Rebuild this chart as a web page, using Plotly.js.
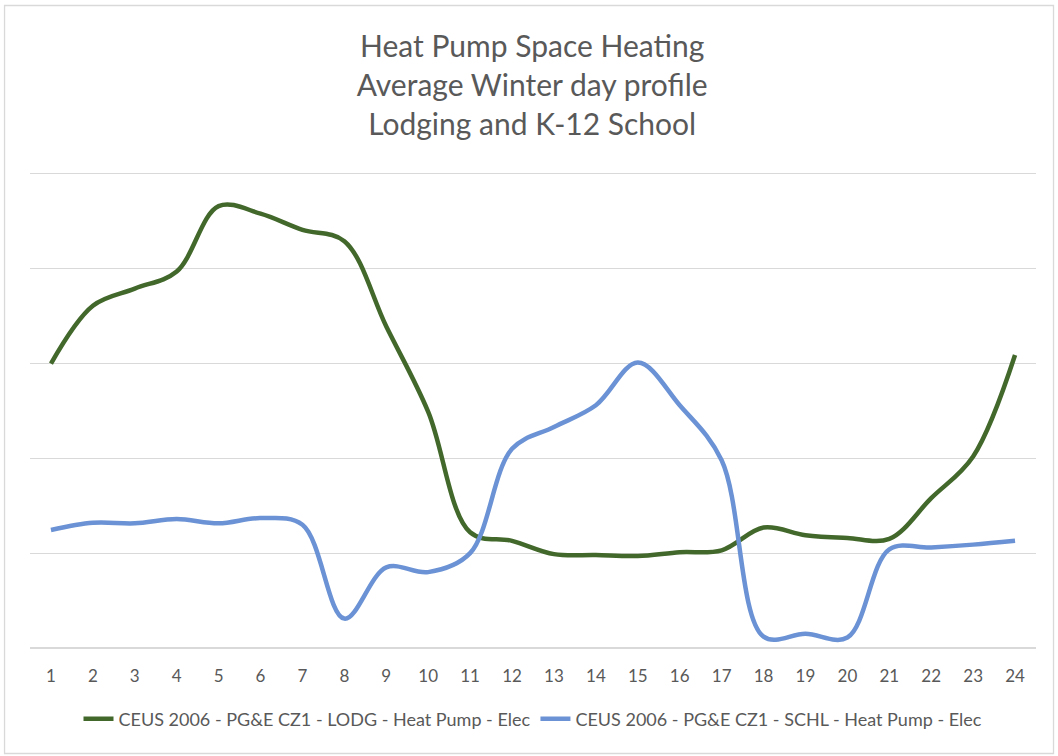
<!DOCTYPE html>
<html>
<head>
<meta charset="utf-8">
<script src="https://cdn.plot.ly/plotly-3.0.1.min.js"></script>
<style>
  html, body { margin: 0; padding: 0; background: #ffffff; }
  #chart { width: 1058px; height: 756px; }
</style>
</head>
<body>
<div id="chart"></div>
<script>
// Hours of the day (category labels)
const hours = ["1","2","3","4","5","6","7","8","9","10","11","12","13","14","15","16","17","18","19","20","21","22","23","24"];

// Series names
const lodgName = "CEUS 2006 - PG&E CZ1 - LODG - Heat Pump - Elec";
const schlName = "CEUS 2006 - PG&E CZ1 - SCHL - Heat Pump - Elec";

// Values (unlabelled vertical axis, gridline units)
const lodgValues = [3.00, 3.61, 3.79, 3.97, 4.66, 4.58, 4.41, 4.29, 3.39, 2.49, 1.22, 1.13,
                    0.99, 0.98, 0.97, 1.01, 1.03, 1.27, 1.19, 1.16, 1.15, 1.58, 2.02, 3.09];
const schlValues = [1.245, 1.32, 1.315, 1.36, 1.315, 1.37, 1.30, 0.31, 0.85, 0.80, 1.00, 2.10,
                    2.33, 2.56, 3.01, 2.56, 1.98, 0.12, 0.15, 0.11, 1.04, 1.06, 1.09, 1.13];

const FONT = "Lato, 'Open Sans', sans-serif";
const TXT = "#595959";

const traces = [
  {
    x: hours, y: lodgValues, name: lodgName, type: "scatter", mode: "lines",
    line: { color: "#43682B", width: 4.5, shape: "spline", smoothing: 1 }
  },
  {
    x: hours, y: schlValues, name: schlName, type: "scatter", mode: "lines",
    line: { color: "#6A92D4", width: 4.5, shape: "spline", smoothing: 1 }
  }
];

const layout = {
  width: 1058, height: 756,
  paper_bgcolor: "#ffffff", plot_bgcolor: "#ffffff",
  margin: { l: 30, r: 22, t: 171, b: 108 },
  font: { family: FONT, color: TXT, size: 16 },
  title: {
    text: "Heat Pump Space Heating<br>Average Winter day profile<br>Lodging and K-12 School",
    x: 0.503, xref: "container", xanchor: "center",
    y: 0.925, yref: "container", yanchor: "top",
    font: { family: FONT, size: 30, color: TXT }
  },
  xaxis: {
    type: "category",
    range: [-0.5, 23.5],
    showgrid: false, zeroline: false, showline: false,
    ticks: "", ticklabelstandoff: 16,
    tickfont: { family: FONT, size: 17, color: TXT }
  },
  yaxis: {
    range: [0, 5.03],
    dtick: 1,
    showticklabels: false,
    showgrid: true, gridcolor: "#d9d9d9", gridwidth: 1.3,
    zeroline: true, zerolinecolor: "#d9d9d9", zerolinewidth: 1.3,
    showline: false, ticks: ""
  },
  showlegend: true,
  legend: {
    orientation: "h",
    x: 0.5, xanchor: "center",
    y: -0.149, yanchor: "middle",
    font: { family: FONT, size: 18, color: TXT },
    itemwidth: 30,
    traceorder: "normal"
  },
  shapes: [
    {
      type: "rect", xref: "paper", yref: "paper",
      x0: -0.0253, x1: 1.0174, y0: -0.2212, y1: 1.347,
      line: { color: "#d9d9d9", width: 1.3 }, fillcolor: "rgba(0,0,0,0)", layer: "below"
    }
  ]
};

Plotly.newPlot("chart", traces, layout, { displayModeBar: false, staticPlot: true });
</script>
</body>
</html>
